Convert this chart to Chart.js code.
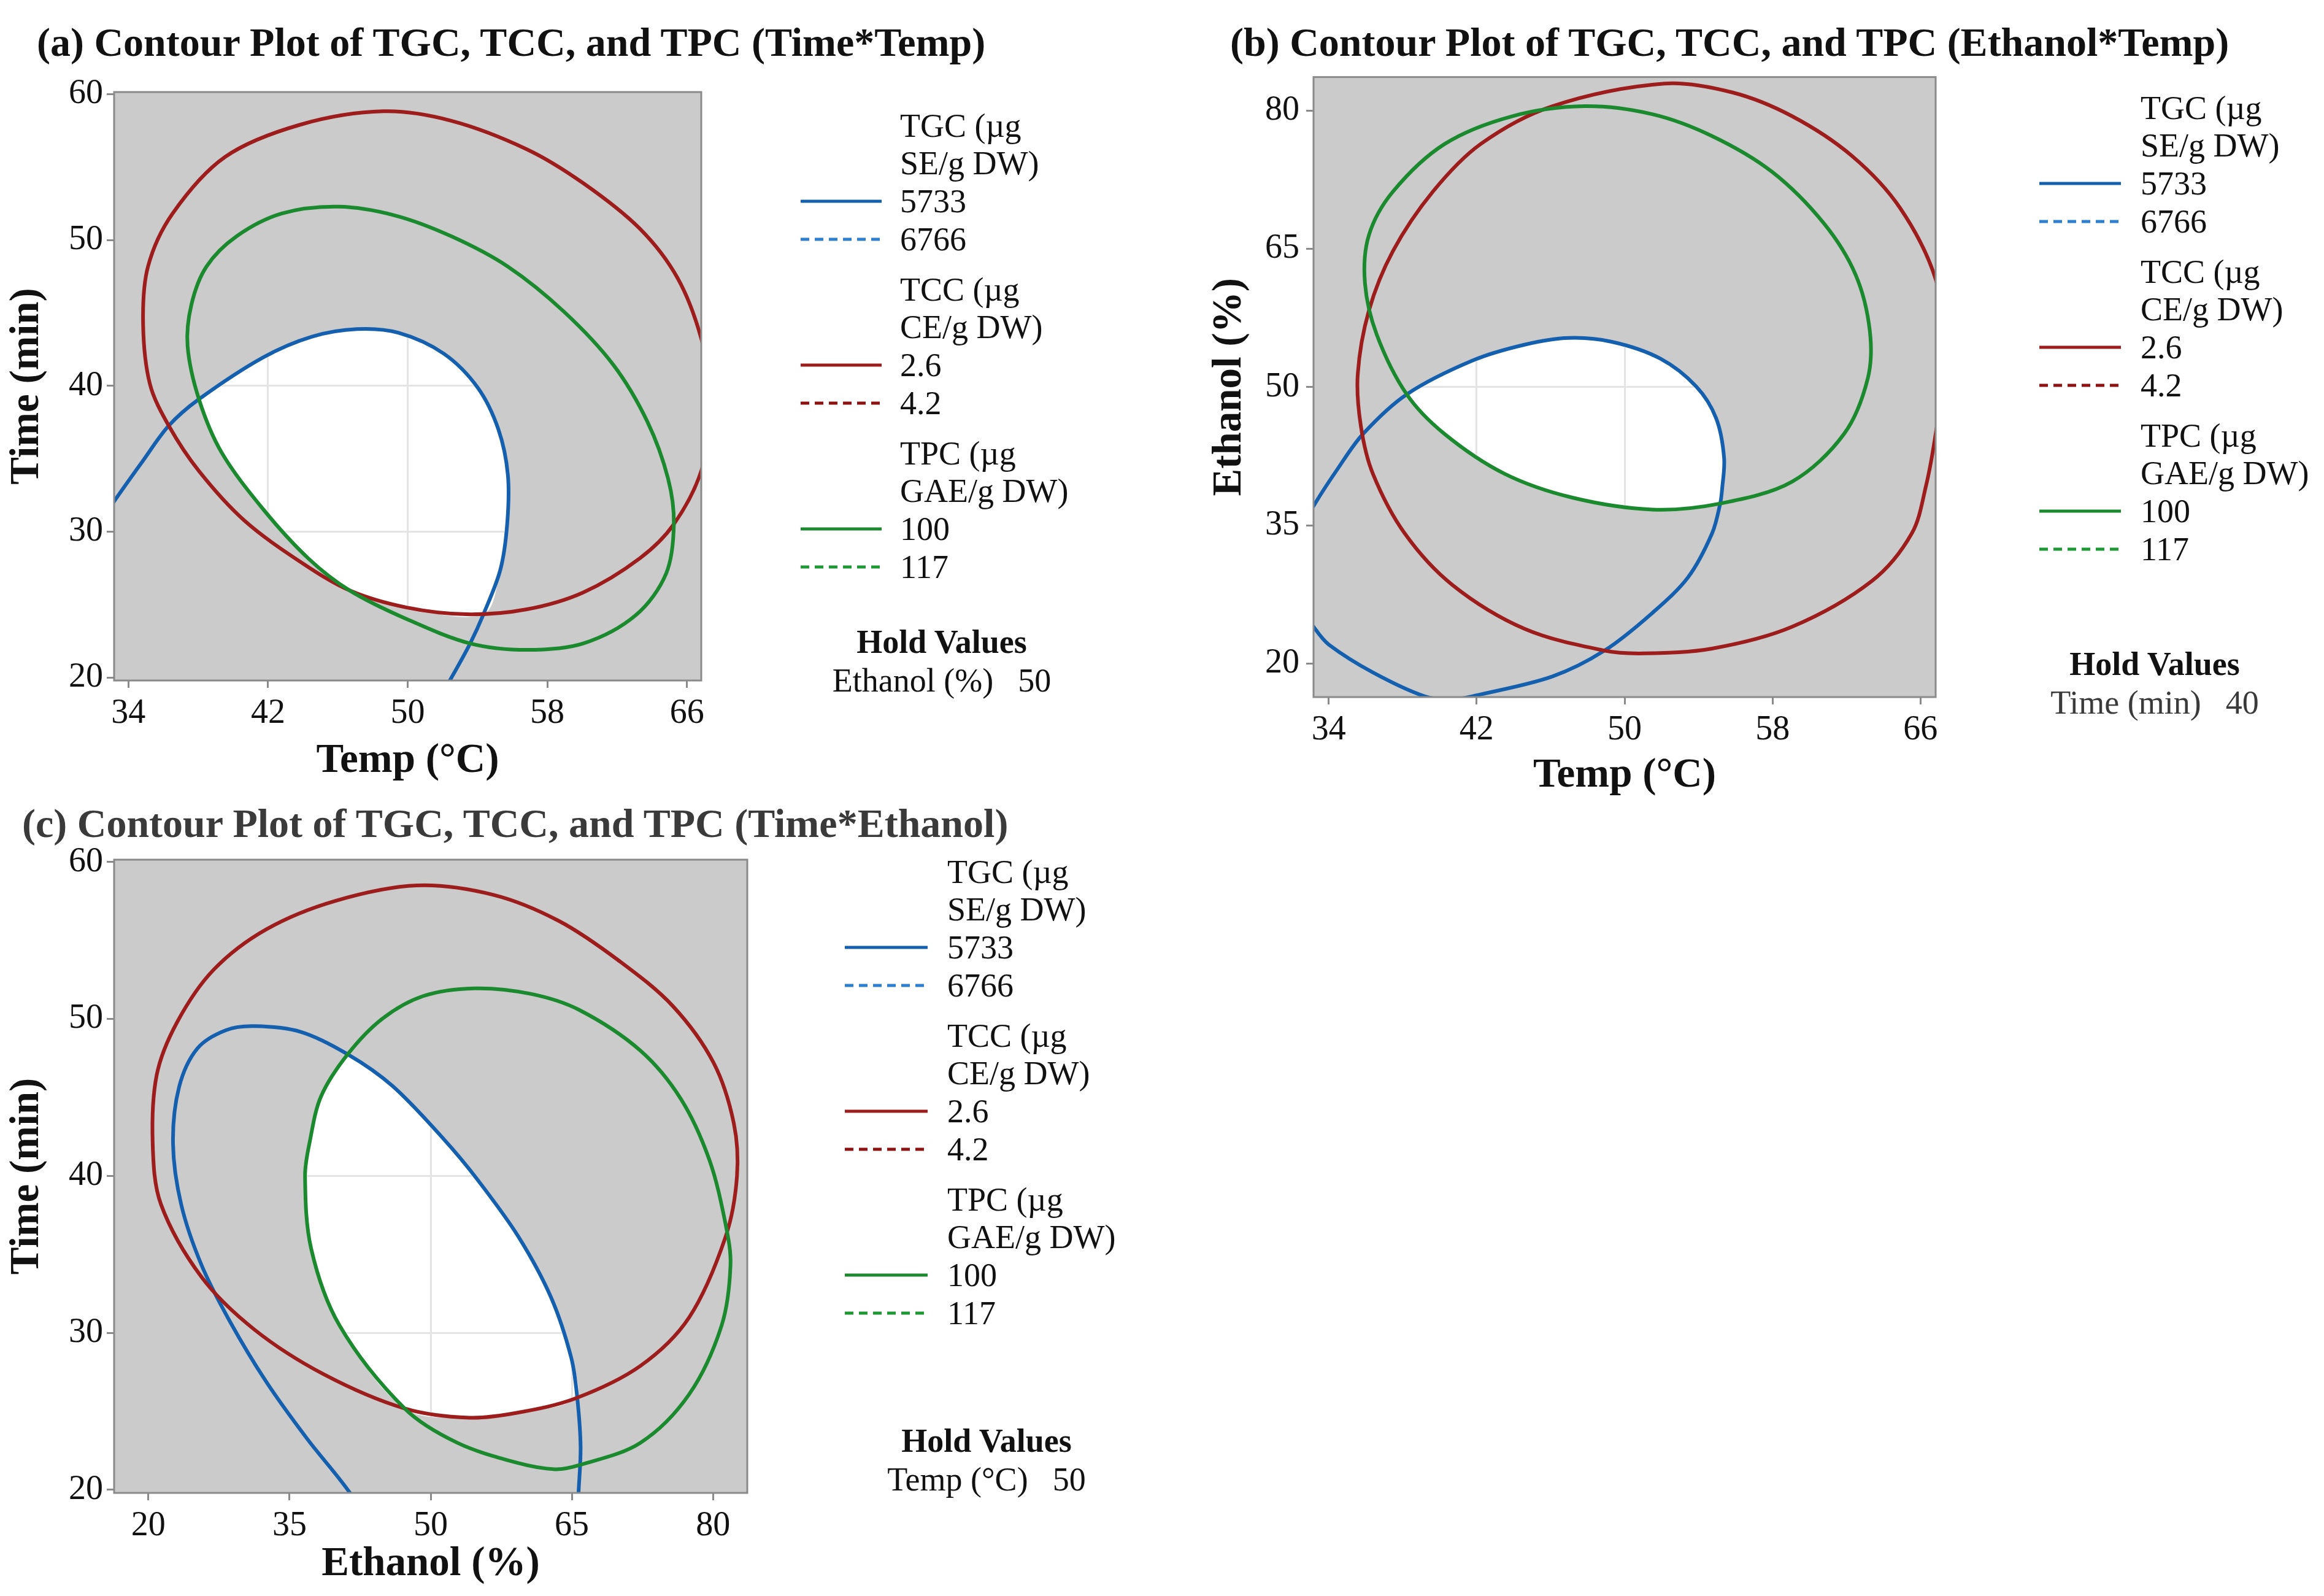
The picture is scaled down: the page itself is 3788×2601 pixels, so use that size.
<!DOCTYPE html>
<html>
<head>
<meta charset="utf-8">
<script src="https://cdn.jsdelivr.net/npm/chart.js@4.4.1/dist/chart.umd.min.js"></script>
<style>
  html, body { margin: 0; padding: 0; background: #fff; }
  #page { position: relative; width: 3788px; height: 2601px; overflow: hidden;
          font-family: 'Liberation Serif', 'DejaVu Serif', serif; color: #111; }
  #page canvas { position: absolute; }
  .txt { position: absolute; white-space: nowrap; }
</style>
</head>
<body>
<div id="page">
  <canvas id="chartA" width="1163" height="1172" style="left:0px; top:110px"></canvas>
  <canvas id="chartB" width="1215" height="1225" style="left:1960px; top:81px"></canvas>
  <canvas id="chartC" width="1238" height="1230" style="left:0px; top:1361px"></canvas>
</div>
<script>
// axis ranges and tick values
const tempRange = [33.18, 66.82];
const timeRange = [19.8, 60.15];
const ethanolRange = [16.36, 83.64];
const tempTicks = [34, 42, 50, 58, 66];
const timeTicks = [20, 30, 40, 50, 60];
const ethanolTicks = [20, 35, 50, 65, 80];

// legend contents
const responseNames = [['TGC (µg', 'SE/g DW)'], ['TCC (µg', 'CE/g DW)'], ['TPC (µg', 'GAE/g DW)']];
const lowContours = ['5733', '2.6', '100'];
const highContours = ['6766', '4.2', '117'];
const solidColors = ['#1560ae', '#9d1c1c', '#1b8a2e'];
const dashColors = ['#2f7fd0', '#8e1212', '#1f9936'];

// (a) Time vs Temp, Ethanol held at 50 -- contour points read as [temp, time]
const a_TGC = [[32.5,30.8],[33.18,32.08],[34.8,34.81],[36.31,37.27],[38.04,39.09],[41.71,41.95],[44.52,43.38],[47.11,43.9],[49.48,43.64],[52.07,42.21],[54.02,39.87],[55.2,37.01],[55.74,33.9],[55.7,30.52],[55.31,27.4],[54.34,24.34],[53.58,22.34],[52.51,20.0],[52.0,19.0]];
const a_TCC = [[67.5,38.7],[66.82,43.25],[65.46,47.4],[63.3,50.78],[60.06,53.9],[56.82,56.23],[52.5,58.18],[48.62,58.83],[43.87,57.92],[39.55,55.71],[36.53,51.82],[35.12,48.18],[34.84,44.29],[35.23,40.13],[36.31,37.27],[38.04,34.16],[40.63,30.78],[43.87,27.92],[46.68,25.97],[49.91,24.81],[53.37,24.34],[56.82,24.68],[60.06,25.84],[63.3,28.18],[65.25,30.52],[66.82,34.16],[67.5,38.7]];
const a_TPC = [[46.03,52.29],[42.79,51.82],[40.2,50.26],[38.47,48.18],[37.61,45.58],[37.39,42.73],[38.04,39.09],[39.33,35.45],[41.71,31.56],[44.3,28.18],[46.68,25.97],[49.91,24.03],[53.58,22.34],[56.82,21.9],[60.06,22.34],[63.08,24.29],[64.81,27.14],[65.25,30.52],[64.92,33.64],[63.74,37.53],[61.79,41.43],[58.98,45.06],[55.74,48.18],[52.5,50.26],[49.26,51.69]];
const a_open = [[38.04,39.09],[41.71,41.95],[44.52,43.38],[47.11,43.9],[49.48,43.64],[52.07,42.21],[54.02,39.87],[55.2,37.01],[55.74,33.9],[55.7,30.52],[55.31,27.4],[54.34,24.34],[49.91,24.81],[46.68,25.97],[44.3,28.18],[41.71,31.56],[39.33,35.45],[38.04,39.09]];

// (b) Ethanol vs Temp, Time held at 40 -- [temp, ethanol]
const b_TGC = [[32.6,26.0],[33.26,23.77],[34.01,22.05],[36.39,19.03],[39.19,16.44],[40.7,16.1],[42.22,16.65],[46.1,18.6],[48.91,21.4],[51.5,25.49],[53.44,29.38],[54.73,34.12],[55.17,37.36],[55.27,38.86],[55.38,42.31],[54.95,46.62],[53.87,50.07],[51.93,53.09],[49.34,54.9],[46.96,55.33],[44.59,54.6],[41.78,52.88],[38.22,49.21],[35.85,44.9],[34.45,41.02],[33.26,37.35],[32.7,35.2],[32.3,31.0]];
const b_TCC = [[52.14,82.93],[46.1,80.48],[42.22,76.38],[39.63,71.2],[37.47,64.74],[36.17,58.27],[35.57,51.37],[35.74,45.76],[36.39,40.59],[38.11,34.12],[40.7,28.51],[44.59,23.77],[48.91,21.4],[51.07,21.1],[54.73,21.62],[59.05,23.98],[63.37,28.95],[65.53,34.12],[66.3,39.3],[66.82,44.9],[67.4,53.5],[66.82,61.72],[64.88,69.48],[62.29,75.09],[59.05,79.4],[55.81,81.98]];
const b_TPC = [[47.83,80.48],[43.94,79.4],[40.27,76.38],[37.47,71.2],[36.17,66.46],[35.96,61.29],[36.6,55.68],[38.22,49.21],[40.27,44.9],[43.51,40.59],[47.18,38.0],[51.5,36.71],[55.17,37.36],[59.05,39.73],[61.86,44.9],[63.15,50.94],[63.26,56.11],[62.5,62.15],[60.78,67.75],[57.97,73.36],[54.73,77.24],[51.5,79.61]];
const b_open = [[38.22,49.21],[41.78,52.88],[44.59,54.6],[46.96,55.33],[49.34,54.9],[51.93,53.09],[53.87,50.07],[54.95,46.62],[55.38,42.31],[55.27,38.86],[55.17,37.36],[51.5,36.71],[47.18,38.0],[43.51,40.59],[40.27,44.9],[38.22,49.21]];

// (c) Time vs Ethanol, Temp held at 50 -- [ethanol, time]
const c_TGC = [[42.3,18.6],[41.4,19.82],[36.87,23.25],[32.55,26.86],[28.67,30.72],[25.64,34.33],[23.48,38.2],[22.62,42.06],[23.27,45.67],[25.21,48.12],[28.23,49.28],[31.26,49.54],[36.18,49.18],[41.18,47.75],[45.96,45.72],[51.39,42.34],[55.0,39.74],[59.32,36.13],[62.78,32.27],[64.94,28.4],[65.58,25.82],[65.93,22.73],[65.71,19.82],[65.6,18.5]];
const c_TCC = [[48.53,58.51],[39.89,57.53],[32.55,55.72],[26.94,53.14],[23.05,49.79],[20.89,46.44],[20.46,42.06],[21.33,38.2],[25.64,33.56],[31.26,30.21],[38.6,27.37],[47.23,25.18],[54.14,24.59],[59.32,24.92],[65.37,25.82],[72.27,27.89],[77.46,30.98],[81.34,36.13],[82.55,40.0],[82.21,43.35],[80.05,47.22],[75.73,50.82],[70.12,53.66],[63.64,56.24],[56.66,57.91]];
const c_TPC = [[54.65,51.95],[49.21,51.46],[44.87,50.02],[41.18,47.75],[38.35,45.07],[37.16,42.21],[36.65,40.0],[37.3,35.36],[40.32,30.46],[47.23,25.18],[52.84,22.99],[59.32,21.7],[63.21,21.31],[65.8,21.57],[72.27,22.99],[77.46,26.08],[80.91,30.46],[81.86,34.33],[81.34,36.91],[79.61,41.03],[76.59,44.9],[72.27,47.99],[65.8,50.57],[60.62,51.6]];
const c_open = [[41.18,47.75],[45.96,45.72],[51.39,42.34],[55.0,39.74],[59.32,36.13],[62.78,32.27],[64.94,28.4],[65.4,25.85],[59.32,24.92],[54.14,24.59],[47.23,25.18],[40.32,30.46],[37.3,35.36],[36.65,40.0],[37.16,42.21],[38.35,45.07],[41.18,47.75]];

const FONT = "'Liberation Serif', 'DejaVu Serif', serif";
Chart.defaults.font.family = FONT;
const page = document.getElementById('page');

function addText(text, left, cy, size, opts = {}) {
  const d = document.createElement('div');
  const lh = Math.round(size * 1.2);
  d.className = 'txt';
  d.textContent = text;
  d.style.fontSize = size + 'px';
  d.style.lineHeight = lh + 'px';
  d.style.top = (cy - lh / 2) + 'px';
  if (opts.center) {
    d.style.left = (left - 600) + 'px';
    d.style.width = '1200px';
    d.style.textAlign = 'center';
  } else {
    d.style.left = left + 'px';
  }
  if (opts.bold) d.style.fontWeight = 'bold';
  if (opts.color) d.style.color = opts.color;
  page.appendChild(d);
  return d;
}

function addKey(x1, x2, cy, color, dashed) {
  const ns = 'http://www.w3.org/2000/svg';
  const svg = document.createElementNS(ns, 'svg');
  svg.setAttribute('width', x2 - x1);
  svg.setAttribute('height', 10);
  svg.style.position = 'absolute';
  svg.style.left = x1 + 'px';
  svg.style.top = (cy - 5) + 'px';
  const ln = document.createElementNS(ns, 'line');
  ln.setAttribute('x1', 0); ln.setAttribute('x2', x2 - x1);
  ln.setAttribute('y1', 5); ln.setAttribute('y2', 5);
  ln.setAttribute('stroke', color);
  ln.setAttribute('stroke-width', 5);
  if (dashed) ln.setAttribute('stroke-dasharray', '14 9');
  svg.appendChild(ln);
  page.appendChild(svg);
}

function buildLegend(x1, x2, tx, top) {
  responseNames.forEach((name, g) => {
    const y0 = top + g * 267;
    addText(name[0], tx, y0, 54);
    addText(name[1], tx, y0 + 61, 54);
    addText(lowContours[g], tx, y0 + 123, 54);
    addKey(x1, x2, y0 + 123, solidColors[g], false);
    addText(highContours[g], tx, y0 + 185, 54);
    addKey(x1, x2, y0 + 185, dashColors[g], true);
  });
}

function buildHold(cx, cy, factor, value, color) {
  addText('Hold Values', cx, cy, 54, { center: true, bold: true });
  const d = addText(factor, cx, cy + 63, 54, { center: true, color: color });
  const v = document.createElement('span');
  v.textContent = value;
  v.style.marginLeft = '40px';
  d.appendChild(v);
}

// gray plot area, grid lines visible only where the region is unshaded, frame
const plotFrame = {
  id: 'plotFrame',
  beforeDraw(chart) {
    const { ctx, chartArea: a } = chart;
    ctx.save();
    ctx.fillStyle = '#cbcbcb';
    ctx.fillRect(a.left, a.top, a.right - a.left, a.bottom - a.top);
    ctx.restore();
  },
  afterDatasetsDraw(chart) {
    chart.ctx.globalCompositeOperation = 'darken';
  },
  afterDraw(chart) {
    const { ctx, chartArea: a } = chart;
    ctx.globalCompositeOperation = 'source-over';
    ctx.save();
    ctx.strokeStyle = '#8a8a8a';
    ctx.lineWidth = 3;
    ctx.strokeRect(a.left, a.top, a.right - a.left, a.bottom - a.top);
    ctx.restore();
  }
};

function axis(range, ticks, title, horizontal, size, pad) {
  return {
    type: 'linear',
    min: range[0],
    max: range[1],
    afterBuildTicks: s => { s.ticks = ticks.map(v => ({ value: v })); },
    afterFit: s => { if (horizontal) s.height = size; else s.width = size; },
    grid: { z: 1, color: '#e4e4e4', lineWidth: 3, tickColor: '#8a8a8a', tickWidth: 3, tickLength: 12 },
    border: { display: false },
    ticks: { color: '#111', font: { size: 56 }, padding: pad, autoSkip: false, maxRotation: 0 },
    title: {
      display: true, text: title, color: '#111',
      font: { size: 67, weight: 'bold' },
      padding: horizontal ? { top: 0, bottom: 1 } : { top: 4, bottom: 0 }
    }
  };
}

function makeChart(id, p) {
  const toXY = pts => pts.map(([x, y]) => ({ x, y }));
  // closed contours: pad with neighbours so the join is smooth, and hide the padding segments
  const curve = (pts, closed, color, order) => {
    const data = closed ? [pts[pts.length - 1], ...pts, pts[0], pts[1]] : pts;
    const last = data.length - 1;
    return {
      data: toXY(data),
      showLine: true, borderColor: color, borderWidth: 6,
      pointRadius: 0, tension: 0.33, fill: false, order: order,
      segment: closed ? {
        borderColor: c => (c.p0DataIndex === 0 || c.p1DataIndex === last) ? 'rgba(0,0,0,0)' : undefined
      } : undefined
    };
  };
  return new Chart(document.getElementById(id), {
    type: 'scatter',
    data: {
      datasets: [
        curve(p.tpc[0], p.tpc[1], solidColors[2], 1),
        curve(p.tcc[0], p.tcc[1], solidColors[1], 2),
        curve(p.tgc[0], p.tgc[1], solidColors[0], 3),
        {
          data: toXY(p.open), showLine: true, fill: 'shape',
          backgroundColor: '#ffffff', borderColor: 'rgba(0,0,0,0)', borderWidth: 1,
          pointRadius: 0, tension: 0.33, order: 4
        }
      ]
    },
    options: {
      responsive: false,
      animation: false,
      devicePixelRatio: 1,
      layout: { padding: { left: 0, top: 40, right: 20, bottom: 0 } },
      elements: { line: { capBezierPoints: false } },
      plugins: { legend: { display: false }, tooltip: { enabled: false } },
      scales: {
        x: axis(p.xRange, p.xTicks, p.xTitle, true, p.xSize, 9),
        y: axis(p.yRange, p.yTicks, p.yTitle, false, p.ySize, p.yPad)
      }
    },
    plugins: [plotFrame]
  });
}

makeChart('chartA', {
  xRange: tempRange, xTicks: tempTicks, xTitle: 'Temp (°C)', xSize: 173,
  yRange: timeRange, yTicks: timeTicks, yTitle: 'Time (min)', ySize: 186, yPad: 6,
  tgc: [a_TGC, false], tcc: [a_TCC, false], tpc: [a_TPC, true], open: a_open
});
makeChart('chartB', {
  xRange: tempRange, xTicks: tempTicks, xTitle: 'Temp (°C)', xSize: 170,
  yRange: ethanolRange, yTicks: ethanolTicks, yTitle: 'Ethanol (%)', ySize: 181, yPad: 11,
  tgc: [b_TGC, true], tcc: [b_TCC, true], tpc: [b_TPC, true], open: b_open
});
makeChart('chartC', {
  xRange: ethanolRange, xTicks: ethanolTicks, xTitle: 'Ethanol (%)', xSize: 158,
  yRange: timeRange, yTicks: timeTicks, yTitle: 'Time (min)', ySize: 186, yPad: 6,
  tgc: [c_TGC, false], tcc: [c_TCC, true], tpc: [c_TPC, true], open: c_open
});

// panel titles
addText('(a) Contour Plot of TGC, TCC, and TPC (Time*Temp)', 60, 68, 66, { bold: true });
addText('(b) Contour Plot of TGC, TCC, and TPC (Ethanol*Temp)', 2005, 68, 66, { bold: true });
addText('(c) Contour Plot of TGC, TCC, and TPC (Time*Ethanol)', 36, 1341, 66, { bold: true, color: '#3a3a3a' });

// legends and hold values
buildLegend(1305, 1437, 1467, 205);
buildLegend(3324, 3457, 3489, 176);
buildLegend(1377, 1512, 1544, 1421);
buildHold(1535, 1046, 'Ethanol (%)', '50', '#111');
buildHold(3512, 1082, 'Time (min)', '40', '#3a3a3a');
buildHold(1608, 2348, 'Temp (°C)', '50', '#111');
</script>
</body>
</html>
